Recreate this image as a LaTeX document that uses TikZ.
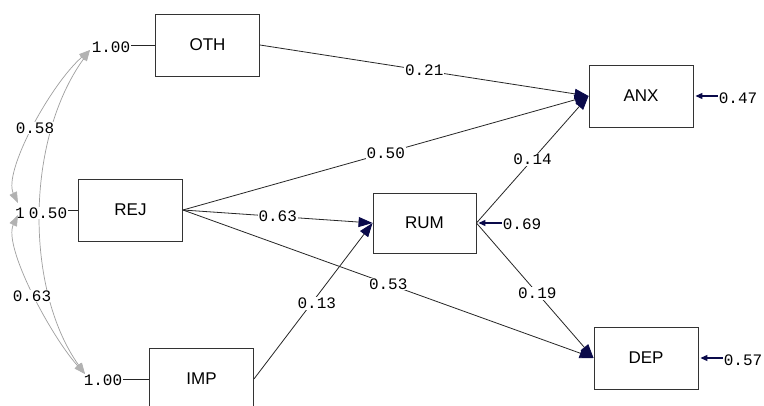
\documentclass[tikz,border=0pt]{standalone}
\usepackage{fontspec}
\setmainfont{Liberation Sans}
\newfontfamily\monof{Liberation Mono}
\usetikzlibrary{arrows.meta}
\definecolor{navy}{HTML}{0A0A4A}
\begin{document}
\begin{tikzpicture}[x=1pt,y=-1pt,
  box/.style={draw=black!80, line width=0.9pt, minimum width=104pt, minimum height=62pt, inner sep=0pt, font=\fontsize{17}{17}\selectfont},
  lbl/.style={fill=white, inner sep=1pt, font=\monof\fontsize{16}{16}\selectfont},
  plain/.style={inner sep=1pt, font=\monof\fontsize{16}{16}\selectfont},
  pth/.style={draw=black!85, line width=0.8pt, -{Triangle[length=14pt,width=10pt,color=navy]}},
  errarr/.style={draw=navy, line width=1.2pt, -{Triangle[length=7pt,width=6pt,color=navy]}},
  stub/.style={draw=black!85, line width=0.8pt},
  cov/.style={draw=gray!75, line width=0.7pt, {Triangle[length=11pt,width=8pt,color=gray!60]}-{Triangle[length=11pt,width=8pt,color=gray!60]}}
]
\useasboundingbox (0,0) rectangle (764,405);
\clip (0,0) rectangle (764,405);
\fill[white] (0,0) rectangle (764,405);

% boxes
\node[box] (OTH) at (207.5,45) {OTH};
\node[box] (REJ) at (130.5,210) {REJ};
\node[box] (IMP) at (201.5,379) {IMP};
\node[box, minimum width=103pt, minimum height=60pt] (RUM) at (424.5,223) {RUM};
\node[box] (ANX) at (641,96) {ANX};
\node[box] (DEP) at (646,358) {DEP};

% exogenous variance labels
\node[plain] (one) at (20,213) {1};
\coordinate (O1) at (90,50);
\coordinate (R1) at (18,203);
\coordinate (R2) at (18,215);
\coordinate (I1) at (85,374);

% covariance curves
\draw[cov] (R1) .. controls (3,172) and (50,85) .. (O1);
\draw[cov] (R2) .. controls (3,246) and (50,335) .. (I1);
\draw[cov] (O1) .. controls (25,140) and (25,290) .. (I1);

\node[lbl] (c1) at (35,128) {0.58};
\node[lbl] (c2) at (32,296) {0.63};
\node[lbl] (c3) at (48,213) {0.50};

\node[lbl] (v1) at (111,47) {1.00};
\node[lbl] (v3) at (103,380) {1.00};
\draw[stub] (v1.east |- OTH.west) -- (OTH.west);
\draw[stub] (v3.east |- IMP.west) -- (IMP.west);
\draw[stub] (c3.east |- REJ.west) -- (REJ.west);

% structural paths
\draw[pth] (OTH.east) -- node[lbl,pos=0.5] {0.21} (ANX.west);
\draw[pth] (REJ.east) -- node[lbl,pos=0.5] {0.50} (ANX.west);
\draw[pth] (REJ.east) -- node[lbl,pos=0.5] {0.63} (RUM.west);
\draw[pth] (REJ.east) -- node[lbl,pos=0.5] {0.53} (DEP.west);
\draw[pth] (IMP.east) -- node[lbl,pos=0.53,yshift=-7pt] {0.13} (RUM.west);
\draw[pth] (RUM.east) -- node[lbl,pos=0.5] {0.14} (ANX.west);
\draw[pth] (RUM.east) -- node[lbl,pos=0.52] {0.19} (DEP.west);

% error variances
\node[plain] (eA) at (738,98) {0.47};
\node[plain] (eR) at (522,224) {0.69};
\node[plain] (eD) at (743,360) {0.57};
\draw[errarr] (eA.west |- ANX.east) -- ([xshift=2pt]ANX.east);
\draw[errarr] (eR.west |- RUM.east) -- ([xshift=2pt]RUM.east);
\draw[errarr] (eD.west |- DEP.east) -- ([xshift=2pt]DEP.east);
\end{tikzpicture}
\end{document}
